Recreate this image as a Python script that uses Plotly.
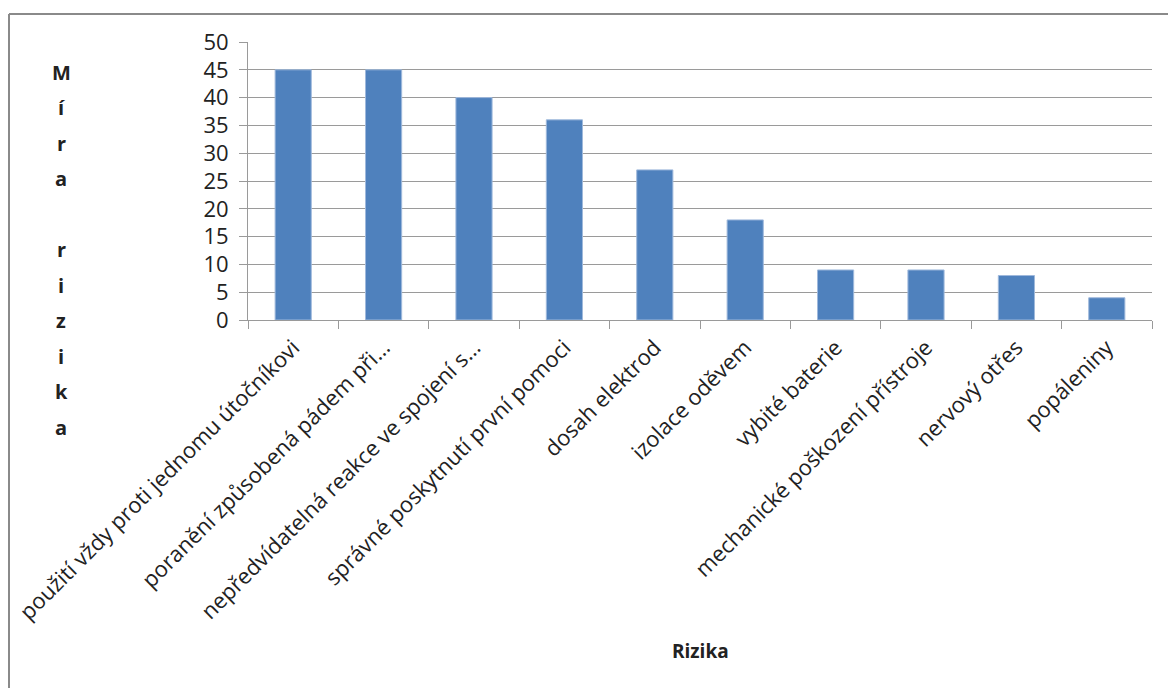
import plotly.graph_objects as go

# Risk categories and their scores
categories = [
    "použití vždy proti jednomu útočníkovi",
    "poranění způsobená pádem při…",
    "nepředvídatelná reakce ve spojení s…",
    "správné poskytnutí první pomoci",
    "dosah elektrod",
    "izolace oděvem",
    "vybité baterie",
    "mechanické poškození přístroje",
    "nervový otřes",
    "popáleniny",
]
values = [45, 45, 40, 36, 27, 18, 9, 9, 8, 4]
y_ticks = [0, 5, 10, 15, 20, 25, 30, 35, 40, 45, 50]

y_title = "Míra rizika"
x_title = "Rizika"

W, H = 1168, 688
L, R, T, B = 248, 16, 42, 368
pw, ph = W - L - R, H - T - B

font_family = "Open Sans, Liberation Sans, sans-serif"
text_col = "#222222"
grid_col = "#9a9a9a"

fig = go.Figure(
    go.Bar(
        x=categories,
        y=values,
        marker=dict(color="#4F81BD", line=dict(color="#9fb9dc", width=1)),
    )
)

fig.update_layout(
    width=W,
    height=H,
    margin=dict(l=L, r=R, t=T, b=B, autoexpand=False),
    plot_bgcolor="white",
    paper_bgcolor="white",
    bargap=0.6,
    showlegend=False,
    font=dict(family=font_family, color=text_col, size=18),
)

fig.update_xaxes(
    type="category",
    tickangle=-45,
    ticks="outside",
    tickson="boundaries",
    ticklen=8,
    tickcolor=grid_col,
    showline=True,
    linecolor=grid_col,
    linewidth=1,
    showgrid=False,
    automargin=False,
    ticklabelstandoff=5,
    tickfont=dict(size=22, color=text_col),
)

fig.update_yaxes(
    range=[0, 50],
    tickvals=y_ticks,
    ticks="outside",
    ticklen=8,
    tickcolor=grid_col,
    showline=True,
    linecolor=grid_col,
    linewidth=1,
    showgrid=True,
    gridcolor=grid_col,
    gridwidth=1,
    zeroline=False,
    automargin=False,
    ticklabelstandoff=6,
    tickfont=dict(size=22, color=text_col),
)

# Stacked vertical axis title: one letter per row
letter_step = 35.5
first_y = 72
for i, ch in enumerate(y_title):
    if ch == " ":
        continue
    py = first_y + i * letter_step
    fig.add_annotation(
        text=f"<b>{ch}</b>",
        xref="paper", yref="paper",
        x=(61 - L) / pw, y=1 - (py - T) / ph,
        xanchor="center", yanchor="middle",
        showarrow=False,
        font=dict(size=20, color=text_col, family=font_family),
    )

# Horizontal axis title
fig.add_annotation(
    text=f"<b>{x_title}</b>",
    xref="paper", yref="paper",
    x=0.5, y=1 - (651 - T) / ph,
    xanchor="center", yanchor="middle",
    showarrow=False,
    font=dict(size=19, color=text_col, family=font_family),
)

# Outer chart frame (top and left edges)
fx0 = (9 - L) / pw
fy_top = 1 - (14 - T) / ph
fy_bot = 1 - (H + 5 - T) / ph
fx1 = (W + 5 - L) / pw
fig.add_shape(type="line", xref="paper", yref="paper",
              x0=fx0, x1=fx1, y0=fy_top, y1=fy_top,
              line=dict(color="#8a8a8a", width=2))
fig.add_shape(type="line", xref="paper", yref="paper",
              x0=fx0, x1=fx0, y0=fy_top, y1=fy_bot,
              line=dict(color="#8a8a8a", width=2))

fig.write_html("out.html")
